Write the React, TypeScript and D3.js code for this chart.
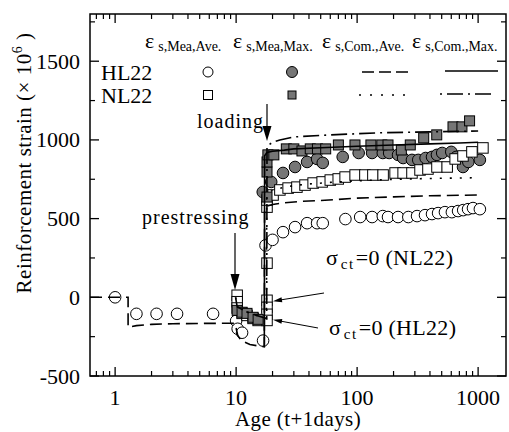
import React from "react";
import * as d3 from "d3";

// ---------- data ----------
// HL22 measured average (open circles)
const hlMeaAveT = [1, 1.5, 2.2, 3.25, 6.45, 10, 10.3, 11.2, 16.7, 17.5, 20, 24.4, 30.7, 38.6, 46.7, 52, 80, 106, 133, 163, 180, 218, 265, 313, 364, 416, 467, 532, 607, 683, 753, 826, 907, 1034];
const hlMeaAveV = [0, -105, -105, -105, -105, -150, -200, -225, -275, 330, 365, 414, 446, 471, 471, 471, 497, 510, 510, 516, 510, 510, 510, 516, 522, 529, 535, 541, 541, 548, 554, 560, 567, 560];
// HL22 measured maximum (grey circles)
const hlMeaMaxT = [16.6, 19.5, 24.4, 30.7, 38.6, 46.7, 52, 76, 103, 133, 163, 184, 218, 240, 284, 320, 368, 416, 457, 505, 600, 660, 750, 830, 1034];
const hlMeaMaxV = [669, 733, 790, 828, 860, 879, 854, 892, 917, 917, 917, 917, 905, 885, 873, 873, 885, 892, 905, 917, 924, 892, 828, 860, 873];
// NL22 measured average (open squares)
const nlMeaAveT = [10.2, 10.2, 10.2, 11.2, 12.3, 13.8, 15.2, 18, 18, 18, 18, 18, 18, 18, 20.2, 23, 26.9, 31.8, 37.1, 43.3, 51.4, 60, 69.8, 79.6, 96.3, 116, 135, 164, 206, 240, 284, 331, 385, 457, 555, 646, 750, 889, 1096];
const nlMeaAveV = [13, -28, -68, -102, -115, -134, -147, -19, -64, -108, -147, 217, 573, 618, 650, 682, 694, 700, 713, 726, 733, 745, 752, 764, 777, 777, 777, 777, 790, 790, 790, 809, 815, 828, 828, 879, 898, 924, 949];
// NL22 measured maximum (grey squares)
const nlMeaMaxT = [10.2, 11.2, 12.3, 13.8, 15.2, 18, 18, 18, 18.3, 20.5, 26, 30, 35, 41, 47, 55, 70, 96, 130, 160, 180, 232, 275, 355, 455, 620, 735, 850];
const nlMeaMaxV = [-83, -95, -102, -127, -140, 637, 796, 860, 905, 905, 943, 943, 930, 943, 943, 943, 968, 968, 968, 968, 968, 936, 968, 1013, 1032, 1083, 1083, 1121];
// HL22 computed average (dashed)
const hlComAveT = [0.62, 1.28, 1.28, 1.5, 2, 3, 5, 8, 9.8, 10.3, 11, 13, 17.1, 17.2, 18, 20, 25, 35, 50, 100, 200, 400, 700, 1000];
const hlComAveV = [0, 0, -190, -180, -172, -168, -166, -165, -165, -240, -275, -300, -315, 560, 580, 590, 600, 610, 615, 630, 638, 645, 648, 650];
// HL22 computed maximum (solid)
const hlComMaxT = [17.1, 17.2, 18, 20, 25, 30, 50, 100, 200, 400, 700, 1000];
const hlComMaxV = [-315, 900, 920, 928, 935, 943, 950, 960, 968, 975, 980, 985];
// NL22 computed average (dotted)
const nlComAveT = [9.9, 10.2, 12, 14, 17.8, 17.9, 18.5, 20, 25, 30, 40, 60, 100, 200, 400, 700, 1000];
const nlComAveV = [0, -60, -90, -110, -135, 640, 660, 680, 700, 710, 720, 730, 740, 750, 755, 758, 760];
// NL22 computed maximum (dash-dot)
const nlComMaxT = [9.9, 10.2, 12, 14, 17.9, 18, 20, 23, 30, 60, 150, 400, 1000];
const nlComMaxV = [0, -60, -90, -110, -135, 960, 985, 1000, 1019, 1032, 1045, 1051, 1057];

const yMajor = [-500, 0, 500, 1000, 1500];
const yMinor = [-250, 250, 750, 1250, 1750];
const xMajor = [1, 10, 100, 1000];
const xMinor = [0.7, 0.8, 0.9, 2, 3, 4, 5, 6, 7, 8, 9, 20, 30, 40, 50, 60, 70, 80, 90, 200, 300, 400, 500, 600, 700, 800, 900];

const FONT = "Liberation Serif, Times New Roman, Times, DejaVu Serif, serif";
const GREY = "#767676";

export default function App() {
  const L = 90, R = 506, T = 14, B = 376;
  const x = d3.scaleLog().domain([0.62, 1700]).range([L, R]);
  const y = d3.scaleLinear().domain([-500, 1800]).range([B, T]);
  const pts = (ts: number[], vs: number[]) => ts.map((t, i) => [t, vs[i]] as [number, number]);
  const line = d3.line<[number, number]>().x(d => x(d[0])).y(d => y(d[1]));

  const circles = (ts: number[], vs: number[], fill: string, r: number) =>
    ts.map((t, i) => (
      <circle key={i} cx={x(t)} cy={y(vs[i])} r={r} fill={fill} stroke="#000" strokeWidth={1} />
    ));
  const squares = (ts: number[], vs: number[], fill: string, s: number) =>
    ts.map((t, i) => (
      <rect key={i} x={x(t) - s / 2} y={y(vs[i]) - s / 2} width={s} height={s} fill={fill} stroke="#000" strokeWidth={1} />
    ));

  const arrowHead = (tx: number, ty: number, angle: number, len: number, w: number) => {
    const a = (angle * Math.PI) / 180;
    const bx = tx - len * Math.cos(a), by = ty - len * Math.sin(a);
    const px = -Math.sin(a) * w / 2, py = Math.cos(a) * w / 2;
    return `M${tx},${ty}L${bx + px},${by + py}L${bx - px},${by - py}Z`;
  };

  const legendHead = [
    { x: 145, sub: "s,Mea,Ave." },
    { x: 233, sub: "s,Mea,Max." },
    { x: 322, sub: "s,Com.,Ave." },
    { x: 412, sub: "s,Com.,Max." },
  ];

  const ts = { fontFamily: FONT };

  return (
    <svg width={509} height={432} style={{ display: "block", position: "absolute", left: 0, top: 0, fontFamily: FONT }}>
      <rect width={509} height={432} fill="#fff" />
      {/* markers */}
      <g>{circles(hlMeaAveT, hlMeaAveV, "#fff", 5.8)}</g>
      <g>{circles(hlMeaMaxT, hlMeaMaxV, GREY, 5.8)}</g>
      <g>{squares(nlMeaAveT, nlMeaAveV, "#fff", 10.5)}</g>
      <g>{squares(nlMeaMaxT, nlMeaMaxV, GREY, 10)}</g>
      {/* computed lines */}
      <path d={line(pts(hlComAveT, hlComAveV)) || ""} fill="none" stroke="#000" strokeWidth={1.6} strokeDasharray="12,6" />
      <path d={line(pts(hlComMaxT, hlComMaxV)) || ""} fill="none" stroke="#000" strokeWidth={1.6} />
      <path d={line(pts(nlComAveT, nlComAveV)) || ""} fill="none" stroke="#000" strokeWidth={1.6} strokeDasharray="2,8" />
      <path d={line(pts(nlComMaxT, nlComMaxV)) || ""} fill="none" stroke="#000" strokeWidth={1.6} strokeDasharray="16,5,2,5" />

      {/* frame and ticks */}
      <rect x={L} y={T} width={R - L} height={B - T} fill="none" stroke="#000" strokeWidth={1.5} />
      {yMajor.map(v => (
        <g key={"ym" + v}>
          <line x1={L} x2={L + 9} y1={y(v)} y2={y(v)} stroke="#000" strokeWidth={1.3} />
          <line x1={R} x2={R - 9} y1={y(v)} y2={y(v)} stroke="#000" strokeWidth={1.3} />
          <text style={ts} x={L - 10} y={y(v) + 7.5} textAnchor="end" fontSize={22}>{v}</text>
        </g>
      ))}
      {yMinor.map(v => (
        <g key={"yn" + v}>
          <line x1={L} x2={L + 5} y1={y(v)} y2={y(v)} stroke="#000" strokeWidth={1.2} />
          <line x1={R} x2={R - 5} y1={y(v)} y2={y(v)} stroke="#000" strokeWidth={1.2} />
        </g>
      ))}
      {xMajor.map(t => (
        <g key={"xm" + t}>
          <line x1={x(t)} x2={x(t)} y1={B} y2={B - 9} stroke="#000" strokeWidth={1.3} />
          <line x1={x(t)} x2={x(t)} y1={T} y2={T + 9} stroke="#000" strokeWidth={1.3} />
          <text style={ts} x={x(t)} y={B + 29} textAnchor="middle" fontSize={22}>{t}</text>
        </g>
      ))}
      {xMinor.map(t => (
        <g key={"xn" + t}>
          <line x1={x(t)} x2={x(t)} y1={B} y2={B - 5} stroke="#000" strokeWidth={1.2} />
          <line x1={x(t)} x2={x(t)} y1={T} y2={T + 5} stroke="#000" strokeWidth={1.2} />
        </g>
      ))}

      {/* axis titles */}
      <text style={ts} x={298} y={426} textAnchor="middle" fontSize={21} letterSpacing={0.4}>Age (t+1days)</text>
      <text style={ts} transform="translate(31,163) rotate(-90)" textAnchor="middle" fontSize={21} letterSpacing={0.5}>
        Reinforcement strain (× 10<tspan fontSize={14} dy={-9}>6</tspan><tspan dy={9}> )</tspan>
      </text>

      {/* legend */}
      {legendHead.map(h => (
        <text style={ts} key={h.sub} x={h.x} y={48} fontSize={22}>
          ε<tspan fontSize={14} dx={4} dy={3}>{h.sub}</tspan>
        </text>
      ))}
      <text style={ts} x={101} y={80} fontSize={22}>HL22</text>
      <text style={ts} x={101} y={103} fontSize={22}>NL22</text>
      <circle cx={208} cy={72} r={5} fill="#fff" stroke="#000" strokeWidth={1} />
      <circle cx={292} cy={72} r={5.5} fill={GREY} stroke="#000" strokeWidth={1} />
      <rect x={203.5} y={90.5} width={9} height={9} fill="#fff" stroke="#000" strokeWidth={1} />
      <rect x={288} y={91} width={8} height={8} fill={GREY} stroke="#000" strokeWidth={1} />
      <line x1={362} x2={408} y1={72} y2={72} stroke="#000" strokeWidth={1.6} strokeDasharray="12,5" />
      <line x1={445} x2={498} y1={71} y2={71} stroke="#000" strokeWidth={1.6} />
      <line x1={359} x2={412} y1={95} y2={95} stroke="#000" strokeWidth={1.6} strokeDasharray="2,9" />
      <line x1={440} x2={494} y1={94} y2={94} stroke="#000" strokeWidth={1.6} strokeDasharray="2,5,16,5" />

      {/* annotations */}
      <text style={ts} x={197} y={128} fontSize={20} letterSpacing={1}>loading</text>
      <line x1={267} x2={267} y1={104} y2={128} stroke="#000" strokeWidth={1.2} />
      <path d={arrowHead(267, 141, 90, 15, 9)} fill="#000" />
      <text style={ts} x={142} y={224} fontSize={20} letterSpacing={1}>prestressing</text>
      <line x1={235} x2={235} y1={233} y2={276} stroke="#000" strokeWidth={1.2} />
      <path d={arrowHead(235, 290, 90, 16, 9)} fill="#000" />

      <text style={ts} x={326} y={265} fontSize={22}>
        σ<tspan fontSize={15} dx={3} dy={4} letterSpacing={1.5}>ct</tspan><tspan dx={1} dy={-4} letterSpacing={0.3}>=0 (NL22)</tspan>
      </text>
      <text style={ts} x={329} y={335} fontSize={22}>
        σ<tspan fontSize={15} dx={3} dy={4} letterSpacing={1.5}>ct</tspan><tspan dx={1} dy={-4} letterSpacing={0.3}>=0 (HL22)</tspan>
      </text>
      <line x1={324} y1={293} x2={280} y2={300} stroke="#000" strokeWidth={1} />
      <path d={arrowHead(273, 301.2, 171, 9, 5)} fill="#000" />
      <line x1={318} y1={328} x2={280} y2={321} stroke="#000" strokeWidth={1} />
      <path d={arrowHead(273, 319.8, -170, 9, 5)} fill="#000" />
    </svg>
  );
}
